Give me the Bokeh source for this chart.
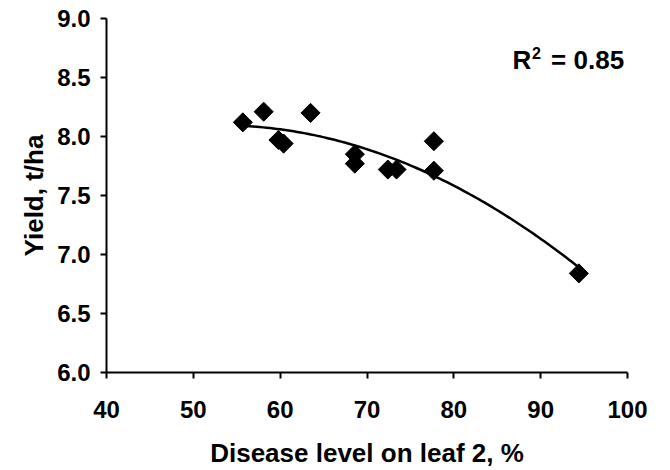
import numpy as np
from bokeh.plotting import figure
from bokeh.models import FixedTicker, NumeralTickFormatter, Label, Range1d
from bokeh.embed import file_html
from bokeh.resources import INLINE

# Data
disease = [55.7, 58.1, 59.8, 60.4, 63.5, 68.6, 68.6, 72.4, 73.4, 77.7, 77.7, 94.4]
yield_t = [8.12, 8.21, 7.97, 7.94, 8.20, 7.85, 7.77, 7.72, 7.72, 7.96, 7.71, 6.84]
x_ticks = [40, 50, 60, 70, 80, 90, 100]
y_ticks = [6.0, 6.5, 7.0, 7.5, 8.0, 8.5, 9.0]
r2_text = "0.85"

FONT = "Liberation Sans"

p = figure(width=670, height=470, output_backend="svg", toolbar_location=None,
           x_range=Range1d(40, 100), y_range=Range1d(6.0, 9.0),
           min_border_left=106, min_border_right=43, min_border_top=18,
           min_border_bottom=98)
p.outline_line_color = None
p.xgrid.visible = False
p.ygrid.visible = False
p.background_fill_color = "white"
p.border_fill_color = "white"

# quadratic trendline fitted to the points
coef = np.polyfit(disease, yield_t, 2)
xs = np.linspace(min(disease), max(disease), 100)
p.line(xs, np.polyval(coef, xs), line_color="black", line_width=2.5)

p.scatter(disease, yield_t, marker="square", angle=np.pi / 4, size=13.5,
          fill_color="black", line_color="black")

for ax in (p.xaxis[0], p.yaxis[0]):
    ax.axis_line_width = 2
    ax.axis_line_color = "black"
    ax.major_tick_line_width = 2
    ax.major_tick_line_color = "black"
    ax.major_tick_in = 0
    ax.major_tick_out = 6
    ax.minor_tick_line_color = None
    ax.major_label_text_font = FONT
    ax.major_label_text_font_style = "bold"
    ax.major_label_text_font_size = "24px"
    ax.major_label_text_color = "black"
    ax.axis_label_text_font = FONT
    ax.axis_label_text_font_style = "bold"
    ax.axis_label_text_font_size = "26px"
    ax.axis_label_text_color = "black"

p.xaxis[0].ticker = FixedTicker(ticks=x_ticks)
p.yaxis[0].ticker = FixedTicker(ticks=y_ticks)
p.yaxis[0].formatter = NumeralTickFormatter(format="0.0")
p.xaxis[0].axis_label = "Disease level on leaf 2, %"
p.yaxis[0].axis_label = "Yield, t/ha"
p.xaxis[0].major_label_standoff = 22
p.yaxis[0].major_label_standoff = 10
p.xaxis[0].axis_label_standoff = 17
p.yaxis[0].axis_label_standoff = 5

p.add_layout(Label(x=86.76, y=8.525, text="R", text_font=FONT, text_font_style="bold",
                   text_font_size="26px", text_color="black"))
p.add_layout(Label(x=89.0, y=8.655, text="2", text_font=FONT, text_font_style="bold",
                   text_font_size="16px", text_color="black"))
p.add_layout(Label(x=91.2, y=8.525, text="= " + r2_text, text_font=FONT, text_font_style="bold",
                   text_font_size="26px", text_color="black"))

open("out.html", "w").write(file_html(p, INLINE))
